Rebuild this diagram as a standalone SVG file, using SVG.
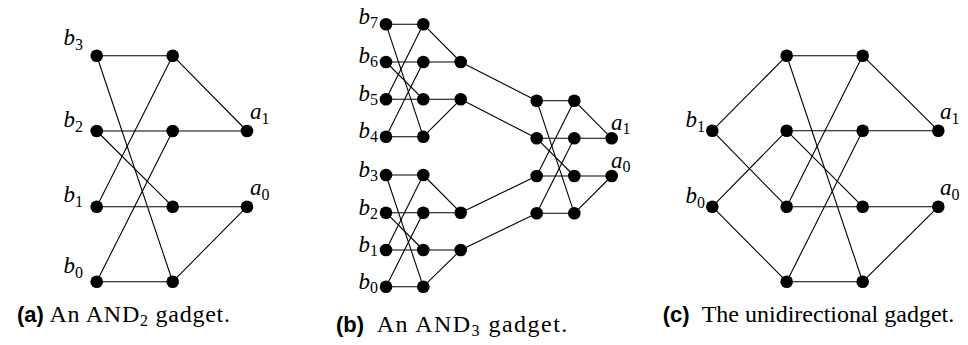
<svg xmlns="http://www.w3.org/2000/svg" width="968" height="345" viewBox="0 0 968 345">
<style>
.n{fill:#000}
.e line{stroke:#000;stroke-width:1.1}
.lbl{font-family:"Liberation Serif",serif;font-style:italic;font-size:23px;fill:#000}
.sub{font-style:normal;font-size:16px}
.cap{font-family:"Liberation Serif",serif;font-size:24px;fill:#000}
.capb{font-family:"Liberation Sans",sans-serif;font-weight:bold;font-size:22px;fill:#000}
.csub{font-size:16px}
</style>
<rect width="968" height="345" fill="#fff"/>
<g id="connectors" class="e">
<!-- panel a -->
<line x1="96.7" y1="55.7" x2="172.7" y2="55.7"/>
<line x1="96.7" y1="55.7" x2="172.7" y2="281.7"/>
<line x1="172.7" y1="55.7" x2="96.7" y2="206.7"/>
<line x1="172.7" y1="55.7" x2="247" y2="131"/>
<line x1="96.7" y1="131" x2="247" y2="131"/>
<line x1="96.7" y1="131" x2="172.7" y2="206.7"/>
<line x1="172.7" y1="131" x2="96.7" y2="281.7"/>
<line x1="96.7" y1="206.7" x2="247" y2="206.7"/>
<line x1="96.7" y1="281.7" x2="172.7" y2="281.7"/>
<line x1="172.7" y1="281.7" x2="247" y2="206.7"/>
<!-- panel b top block -->
<line x1="386" y1="24.3" x2="423.3" y2="24.3"/>
<line x1="386" y1="24.3" x2="423.3" y2="136.7"/>
<line x1="423.3" y1="24.3" x2="386" y2="99.3"/>
<line x1="423.3" y1="24.3" x2="460.7" y2="62"/>
<line x1="386" y1="62" x2="460.7" y2="62"/>
<line x1="386" y1="62" x2="423.3" y2="99.3"/>
<line x1="423.3" y1="62" x2="386" y2="136.7"/>
<line x1="386" y1="99.3" x2="460.7" y2="99.3"/>
<line x1="386" y1="136.7" x2="423.3" y2="136.7"/>
<line x1="423.3" y1="136.7" x2="460.7" y2="99.3"/>
<!-- panel b bottom block -->
<line x1="386" y1="175" x2="423.3" y2="175"/>
<line x1="386" y1="175" x2="423.3" y2="286.7"/>
<line x1="423.3" y1="175" x2="386" y2="250"/>
<line x1="423.3" y1="175" x2="460.7" y2="212.7"/>
<line x1="386" y1="212.7" x2="460.7" y2="212.7"/>
<line x1="386" y1="212.7" x2="423.3" y2="250"/>
<line x1="423.3" y1="212.7" x2="386" y2="286.7"/>
<line x1="386" y1="250" x2="460.7" y2="250"/>
<line x1="386" y1="286.7" x2="423.3" y2="286.7"/>
<line x1="423.3" y1="286.7" x2="460.7" y2="250"/>
<!-- panel b links -->
<line x1="460.7" y1="62" x2="536.7" y2="100.7"/>
<line x1="460.7" y1="99.3" x2="536.7" y2="138.3"/>
<line x1="460.7" y1="212.7" x2="536.7" y2="176"/>
<line x1="460.7" y1="250" x2="536.7" y2="213.3"/>
<!-- panel b right block -->
<line x1="536.7" y1="100.7" x2="574.3" y2="100.7"/>
<line x1="536.7" y1="100.7" x2="574.3" y2="213.3"/>
<line x1="574.3" y1="100.7" x2="536.7" y2="176"/>
<line x1="574.3" y1="100.7" x2="611.7" y2="138.3"/>
<line x1="536.7" y1="138.3" x2="611.7" y2="138.3"/>
<line x1="536.7" y1="138.3" x2="574.3" y2="176"/>
<line x1="574.3" y1="138.3" x2="536.7" y2="213.3"/>
<line x1="536.7" y1="176" x2="611.7" y2="176"/>
<line x1="536.7" y1="213.3" x2="574.3" y2="213.3"/>
<line x1="574.3" y1="213.3" x2="611.7" y2="176"/>
<!-- panel c -->
<line x1="712.3" y1="130.7" x2="786.7" y2="55.7"/>
<line x1="712.3" y1="130.7" x2="786.7" y2="206.7"/>
<line x1="712.3" y1="206.7" x2="786.7" y2="130.7"/>
<line x1="712.3" y1="206.7" x2="786.7" y2="281.7"/>
<line x1="786.7" y1="55.7" x2="862.7" y2="55.7"/>
<line x1="786.7" y1="55.7" x2="862.7" y2="281.7"/>
<line x1="862.7" y1="55.7" x2="786.7" y2="206.7"/>
<line x1="862.7" y1="55.7" x2="938.3" y2="130.7"/>
<line x1="786.7" y1="130.7" x2="938.3" y2="130.7"/>
<line x1="786.7" y1="130.7" x2="862.7" y2="206.7"/>
<line x1="862.7" y1="130.7" x2="786.7" y2="281.7"/>
<line x1="786.7" y1="206.7" x2="938.3" y2="206.7"/>
<line x1="786.7" y1="281.7" x2="862.7" y2="281.7"/>
<line x1="862.7" y1="281.7" x2="938.3" y2="206.7"/>
</g>
<!-- panel a nodes -->
<g id="a-b3"><circle class="n" cx="96.7" cy="55.7" r="6.3"/><text class="lbl" x="83" y="45" text-anchor="end">b<tspan class="sub" dy="5">3</tspan></text></g>
<g id="a-c0"><circle class="n" cx="172.7" cy="55.7" r="6.3"/></g>
<g id="a-b2"><circle class="n" cx="96.7" cy="131" r="6.3"/><text class="lbl" x="83" y="127" text-anchor="end">b<tspan class="sub" dy="5">2</tspan></text></g>
<g id="a-c1"><circle class="n" cx="172.7" cy="131" r="6.3"/></g>
<g id="a-a1"><circle class="n" cx="247" cy="131" r="6.3"/><text class="lbl" x="250" y="119">a<tspan class="sub" dy="5">1</tspan></text></g>
<g id="a-b1"><circle class="n" cx="96.7" cy="206.7" r="6.3"/><text class="lbl" x="83" y="202" text-anchor="end">b<tspan class="sub" dy="5">1</tspan></text></g>
<g id="a-c2"><circle class="n" cx="172.7" cy="206.7" r="6.3"/></g>
<g id="a-a0"><circle class="n" cx="247" cy="206.7" r="6.3"/><text class="lbl" x="250" y="195">a<tspan class="sub" dy="5">0</tspan></text></g>
<g id="a-b0"><circle class="n" cx="96.7" cy="281.7" r="6.3"/><text class="lbl" x="83" y="273" text-anchor="end">b<tspan class="sub" dy="5">0</tspan></text></g>
<g id="a-c3"><circle class="n" cx="172.7" cy="281.7" r="6.3"/></g>
<!-- panel b nodes -->
<g id="b-b7"><circle class="n" cx="386" cy="24.3" r="6.3"/><text class="lbl" x="378" y="23.5" text-anchor="end">b<tspan class="sub" dy="4">7</tspan></text></g>
<g id="b-t0"><circle class="n" cx="423.3" cy="24.3" r="6.3"/></g>
<g id="b-b6"><circle class="n" cx="386" cy="62" r="6.3"/><text class="lbl" x="378" y="63" text-anchor="end">b<tspan class="sub" dy="4">6</tspan></text></g>
<g id="b-t1"><circle class="n" cx="423.3" cy="62" r="6.3"/></g>
<g id="b-t1o"><circle class="n" cx="460.7" cy="62" r="6.3"/></g>
<g id="b-b5"><circle class="n" cx="386" cy="99.3" r="6.3"/><text class="lbl" x="378" y="101" text-anchor="end">b<tspan class="sub" dy="4">5</tspan></text></g>
<g id="b-t2"><circle class="n" cx="423.3" cy="99.3" r="6.3"/></g>
<g id="b-t2o"><circle class="n" cx="460.7" cy="99.3" r="6.3"/></g>
<g id="b-b4"><circle class="n" cx="386" cy="136.7" r="6.3"/><text class="lbl" x="378" y="138" text-anchor="end">b<tspan class="sub" dy="4">4</tspan></text></g>
<g id="b-t3"><circle class="n" cx="423.3" cy="136.7" r="6.3"/></g>
<g id="b-b3"><circle class="n" cx="386" cy="175" r="6.3"/><text class="lbl" x="378" y="177" text-anchor="end">b<tspan class="sub" dy="4">3</tspan></text></g>
<g id="b-u0"><circle class="n" cx="423.3" cy="175" r="6.3"/></g>
<g id="b-b2"><circle class="n" cx="386" cy="212.7" r="6.3"/><text class="lbl" x="378" y="215" text-anchor="end">b<tspan class="sub" dy="4">2</tspan></text></g>
<g id="b-u1"><circle class="n" cx="423.3" cy="212.7" r="6.3"/></g>
<g id="b-u1o"><circle class="n" cx="460.7" cy="212.7" r="6.3"/></g>
<g id="b-b1"><circle class="n" cx="386" cy="250" r="6.3"/><text class="lbl" x="378" y="252" text-anchor="end">b<tspan class="sub" dy="4">1</tspan></text></g>
<g id="b-u2"><circle class="n" cx="423.3" cy="250" r="6.3"/></g>
<g id="b-u2o"><circle class="n" cx="460.7" cy="250" r="6.3"/></g>
<g id="b-b0"><circle class="n" cx="386" cy="286.7" r="6.3"/><text class="lbl" x="378" y="289" text-anchor="end">b<tspan class="sub" dy="4">0</tspan></text></g>
<g id="b-u3"><circle class="n" cx="423.3" cy="286.7" r="6.3"/></g>
<g id="b-r0"><circle class="n" cx="536.7" cy="100.7" r="6.3"/></g>
<g id="b-s0"><circle class="n" cx="574.3" cy="100.7" r="6.3"/></g>
<g id="b-r1"><circle class="n" cx="536.7" cy="138.3" r="6.3"/></g>
<g id="b-s1"><circle class="n" cx="574.3" cy="138.3" r="6.3"/></g>
<g id="b-a1"><circle class="n" cx="611.7" cy="138.3" r="6.3"/><text class="lbl" x="611" y="129.5">a<tspan class="sub" dy="4">1</tspan></text></g>
<g id="b-r2"><circle class="n" cx="536.7" cy="176" r="6.3"/></g>
<g id="b-s2"><circle class="n" cx="574.3" cy="176" r="6.3"/></g>
<g id="b-a0"><circle class="n" cx="611.7" cy="176" r="6.3"/><text class="lbl" x="611" y="167.5">a<tspan class="sub" dy="4">0</tspan></text></g>
<g id="b-r3"><circle class="n" cx="536.7" cy="213.3" r="6.3"/></g>
<g id="b-s3"><circle class="n" cx="574.3" cy="213.3" r="6.3"/></g>
<!-- panel c nodes -->
<g id="c-t0"><circle class="n" cx="786.7" cy="55.7" r="6.3"/></g>
<g id="c-t1"><circle class="n" cx="862.7" cy="55.7" r="6.3"/></g>
<g id="c-b1"><circle class="n" cx="712.3" cy="130.7" r="6.3"/><text class="lbl" x="705" y="127" text-anchor="end">b<tspan class="sub" dy="5">1</tspan></text></g>
<g id="c-m0"><circle class="n" cx="786.7" cy="130.7" r="6.3"/></g>
<g id="c-m1"><circle class="n" cx="862.7" cy="130.7" r="6.3"/></g>
<g id="c-a1"><circle class="n" cx="938.3" cy="130.7" r="6.3"/><text class="lbl" x="940" y="119">a<tspan class="sub" dy="5">1</tspan></text></g>
<g id="c-b0"><circle class="n" cx="712.3" cy="206.7" r="6.3"/><text class="lbl" x="705" y="203" text-anchor="end">b<tspan class="sub" dy="5">0</tspan></text></g>
<g id="c-n0"><circle class="n" cx="786.7" cy="206.7" r="6.3"/></g>
<g id="c-n1"><circle class="n" cx="862.7" cy="206.7" r="6.3"/></g>
<g id="c-a0"><circle class="n" cx="938.3" cy="206.7" r="6.3"/><text class="lbl" x="940" y="195">a<tspan class="sub" dy="5">0</tspan></text></g>
<g id="c-d0"><circle class="n" cx="786.7" cy="281.7" r="6.3"/></g>
<g id="c-d1"><circle class="n" cx="862.7" cy="281.7" r="6.3"/></g>
<!-- captions -->
<g id="caption-a"><text class="capb" x="17" y="322">(a)</text><text class="cap" x="49.5" y="322" textLength="180.5">An AND<tspan class="csub" dy="4">2</tspan><tspan dy="-4"> gadget.</tspan></text></g>
<g id="caption-b"><text class="capb" x="336" y="331.7">(b)</text><text class="cap" x="376.7" y="331.7" textLength="190.6">An AND<tspan class="csub" dy="4">3</tspan><tspan dy="-4"> gadget.</tspan></text></g>
<g id="caption-c"><text class="capb" x="662.7" y="321.7">(c)</text><text class="cap" x="701.7" y="321.7">The unidirectional gadget.</text></g>
</svg>
